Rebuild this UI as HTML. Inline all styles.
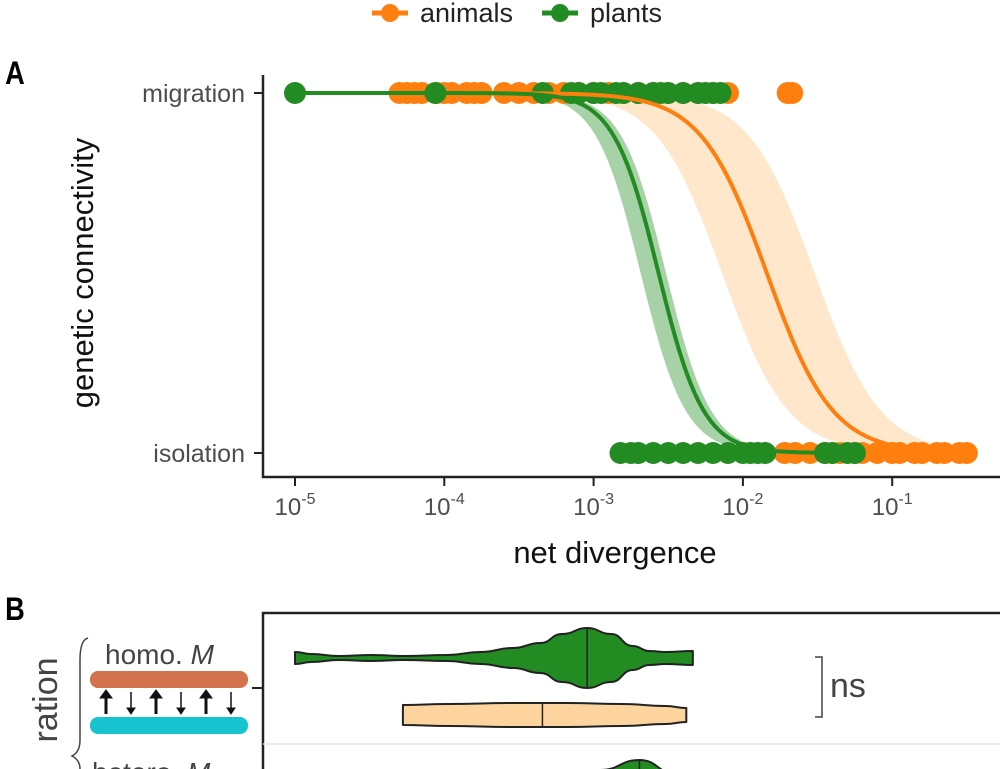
<!DOCTYPE html>
<html><head><meta charset="utf-8"><style>
body{margin:0;background:#fff;width:1000px;height:769px;overflow:hidden}
svg{display:block;font-family:"Liberation Sans","DejaVu Sans",sans-serif}
</style></head><body>
<svg id="chart" width="1000" height="769" viewBox="0 0 1000 769">
<g>
 <line x1="372" y1="13" x2="408" y2="13" stroke="#ff7f0e" stroke-width="5"/>
 <circle cx="390" cy="13" r="9" fill="#ff7f0e"/>
 <text x="420" y="22" font-size="27" fill="#222">animals</text>
 <line x1="542" y1="13" x2="578" y2="13" stroke="#228b22" stroke-width="5"/>
 <circle cx="560" cy="13" r="9" fill="#228b22"/>
 <text x="590" y="22" font-size="27" fill="#222">plants</text>
</g>
<text x="6" y="84" font-size="32" font-weight="bold" transform="scale(0.85,1)">A</text>
<g id="plotA"></g>
<text x="83" y="273" font-size="31" fill="#111" text-anchor="middle" transform="rotate(-90 83 273)" dy="10">genetic connectivity</text>
<text x="615" y="563" font-size="31" fill="#111" text-anchor="middle">net divergence</text>
<text x="6" y="620" font-size="32" font-weight="bold" transform="scale(0.85,1)">B</text>
<g>
 <rect x="263" y="613" width="740" height="170" fill="none" stroke="#222" stroke-width="2.5"/>
 <line x1="263" y1="744" x2="1000" y2="744" stroke="#e3e3e3" stroke-width="1.5"/>
 <line x1="252" y1="688" x2="263" y2="688" stroke="#222" stroke-width="2"/>
 <text x="57" y="700" font-size="34" fill="#444" text-anchor="middle" transform="rotate(-90 57 700)">ration</text>
 <path d="M88 638 Q80 640 80 660 L80 740 Q80 752 72 756 Q80 760 80 769" fill="none" stroke="#444" stroke-width="1.5"/>
 <text x="105" y="664" font-size="28" fill="#444">homo. <tspan font-style="italic">M</tspan></text>
 <rect x="90" y="671" width="158" height="17" rx="8" fill="#d2734e"/>
 <rect x="90" y="717" width="158" height="17" rx="8" fill="#18c3d0"/>
 <g stroke="#111" fill="#111">
  <line x1="106" y1="714" x2="106" y2="696" stroke-width="3"/><path d="M100 698 L106 690 L112 698Z"/>
  <line x1="131" y1="692" x2="131" y2="710" stroke-width="1.5"/><path d="M127 708 L131 714 L135 708Z"/>
  <line x1="156" y1="714" x2="156" y2="696" stroke-width="3"/><path d="M150 698 L156 690 L162 698Z"/>
  <line x1="181" y1="692" x2="181" y2="710" stroke-width="1.5"/><path d="M177 708 L181 714 L185 708Z"/>
  <line x1="206" y1="714" x2="206" y2="696" stroke-width="3"/><path d="M200 698 L206 690 L212 698Z"/>
  <line x1="231" y1="692" x2="231" y2="710" stroke-width="1.5"/><path d="M227 708 L231 714 L235 708Z"/>
 </g>
 <text x="92" y="782" font-size="28" fill="#444">hetero. <tspan font-style="italic">M</tspan></text>
 <g id="violins"></g>
 <path d="M815 657 L822 657 L822 717 L815 717" fill="none" stroke="#444" stroke-width="1.5"/>
 <text x="830" y="697" font-size="34" fill="#444">ns</text>
</g>
</svg>
<script>
// ---- Panel A data (log10 net divergence) ----
const xTickExps = [-5, -4, -3, -2, -1];
const yCategories = ["migration", "isolation"];
const animalsMigration = [-4.3,-4.25,-4.2,-4.15,-4.05,-4.0,-3.95,-3.85,-3.8,-3.75,-3.6,-3.5,-3.4,-3.3,-3.2,-3.1,-3.0,-2.9,-2.8,-2.7,-2.6,-2.5,-2.4,-2.3,-2.2,-2.1,-1.7,-1.67];
const plantsMigration = [-5.0,-4.06,-3.34,-3.15,-3.1,-3.0,-2.95,-2.85,-2.8,-2.7,-2.6,-2.55,-2.5,-2.4,-2.3,-2.25,-2.2,-2.15];
const animalsIsolation = [-1.72,-1.65,-1.55,-1.45,-1.4,-1.35,-1.25,-1.2,-1.1,-1.0,-0.95,-0.85,-0.8,-0.7,-0.65,-0.55,-0.5];
const plantsIsolation = [-2.82,-2.75,-2.7,-2.6,-2.5,-2.4,-2.3,-2.2,-2.1,-2.0,-1.95,-1.9,-1.85,-1.45,-1.4,-1.3,-1.25];
const plantsFit = {mid:-2.565, scale:0.15, lo:-5.0, hi:-1.25, bandLo:0.12, bandHi:0.05};
const animalsFit = {mid:-1.84, scale:0.22, lo:-4.3, hi:-0.5, bandLo:0.3, bandHi:0.32};

const NS='http://www.w3.org/2000/svg';
const X0=295, DEC=149.3, YM=93, YI=453;
const xs=e=>X0+(e+5)*DEC;
const ys=p=>YI-(YI-YM)*p;
function mk(tag,attrs,parent){const el=document.createElementNS(NS,tag);for(const k in attrs)el.setAttribute(k,attrs[k]);parent.appendChild(el);return el;}
const g=document.getElementById('plotA');

let ax=mk('path',{d:`M263 75 L263 477 L1000 477`,fill:'none',stroke:'#222','stroke-width':2.5},g);


yCategories.forEach((c,i)=>{
  const y=i===0?YM:YI;
  const t=mk('line',{x1:254,y1:y,x2:263,y2:y,stroke:'#222','stroke-width':2},g);
  
  
  const l=mk('text',{x:245,y:y+9,'font-size':25,fill:'#4d4d4d','text-anchor':'end'},g);
  l.textContent=c;
  
  
});
xTickExps.forEach(e=>{
  const x=xs(e);
  const t=mk('line',{x1:x,y1:477,x2:x,y2:486,stroke:'#222','stroke-width':2},g);
  
  
  const l=mk('text',{x:x,y:515,'font-size':24,fill:'#4d4d4d','text-anchor':'middle'},g);
  l.innerHTML='10<tspan dy="-11" font-size="16">'+e+'</tspan>';
  
  
});

function logistic(f,e,shift){return 1-1/(1+Math.exp(-(e-(f.mid+shift))/f.scale));}
function curves(f,bandColor,bandOp,name){
  const N=140;let up=[],dn=[],ln=[];
  for(let i=0;i<=N;i++){const e=f.lo+(f.hi-f.lo)*i/N;
    up.push([xs(e),ys(logistic(f,e,f.bandHi))]);dn.push([xs(e),ys(logistic(f,e,-f.bandLo))]);ln.push([xs(e),ys(logistic(f,e,0))]);}
  const band=mk('path',{d:'M'+up.map(p=>p.join(' ')).join('L')+'L'+dn.reverse().map(p=>p.join(' ')).join('L')+'Z',fill:bandColor,'fill-opacity':bandOp},g);
  
  
  return ln;
}
function pts(arr,y,color,name){arr.forEach(e=>{const c=mk('circle',{cx:xs(e),cy:y,r:11,fill:color},g);
  
  });}

const lnA=curves(animalsFit,'#fdd7a8',0.6,'animals');
const lnP=curves(plantsFit,'#228b22',0.4,'plants');
pts(animalsMigration,YM,'#ff7f0e','animals-migration');
pts(animalsIsolation,YI,'#ff7f0e','animals-isolation');
pts(plantsMigration,YM,'#228b22','plants-migration');
pts(plantsIsolation,YI,'#228b22','plants-isolation');
let la=mk('path',{d:'M'+lnA.map(p=>p.join(' ')).join('L'),fill:'none',stroke:'#ff7f0e','stroke-width':4},g);


let lp=mk('path',{d:'M'+lnP.map(p=>p.join(' ')).join('L'),fill:'none',stroke:'#228b22','stroke-width':4},g);



// ---- Panel B violins: [log10 position, half-width] ----
const violinPlantsHomo = [[-5,6],[-4.85,4],[-4.6,2],[-4.3,3],[-4.0,2],[-3.6,3],[-3.3,6],[-3.0,10],[-2.75,15],[-2.55,24],[-2.32,30],[-2.1,24],[-1.9,12],[-1.75,7],[-1.6,6],[-1.35,7]];
const violinAnimalsHomo = [[-4.01,10],[-3.6,11],[-3.0,12],[-2.5,12],[-2.0,11],[-1.6,9],[-1.41,7]];
const violinPlantsHetero = [[-3.2,1],[-2.6,8],[-2.2,18],[-1.84,28],[-1.5,14],[-1.0,4]];
const medians = [-2.32, -2.73, -1.84];
const vg=document.getElementById('violins');
const bx=e=>295+(e+5)*109;
function smooth(p){let d='M'+p[0][0]+' '+p[0][1];for(let i=1;i<p.length;i++){const a=p[i-1],b=p[i],mx=(a[0]+b[0])/2;d+=` C${mx} ${a[1]} ${mx} ${b[1]} ${b[0]} ${b[1]}`;}return d;}
function violin(data,cy,fill,med,name){
  const top=data.map(d=>[bx(d[0]),cy-d[1]]),bot=data.map(d=>[bx(d[0]),cy+d[1]]).reverse();
  const dTop=smooth(top), dBot=smooth(bot).replace('M','L');
  const p=mk('path',{d:dTop+dBot+'Z',fill:fill,stroke:'#222','stroke-width':2,'stroke-linejoin':'round'},vg);
  
  
  const hw=Math.max(...data.map(d=>d[1]));
  const m=mk('line',{x1:bx(med),x2:bx(med),y1:cy-hw,y2:cy+hw,stroke:'#222','stroke-width':1.5},vg);
  
  
}
violin(violinPlantsHomo,658,'#228b22',medians[0],'violin-plants-homo');
violin(violinAnimalsHomo,715,'#fdd49e',medians[1],'violin-animals-homo');
violin(violinPlantsHetero,788,'#228b22',medians[2],'violin-plants-hetero');
</script>
</body></html>
